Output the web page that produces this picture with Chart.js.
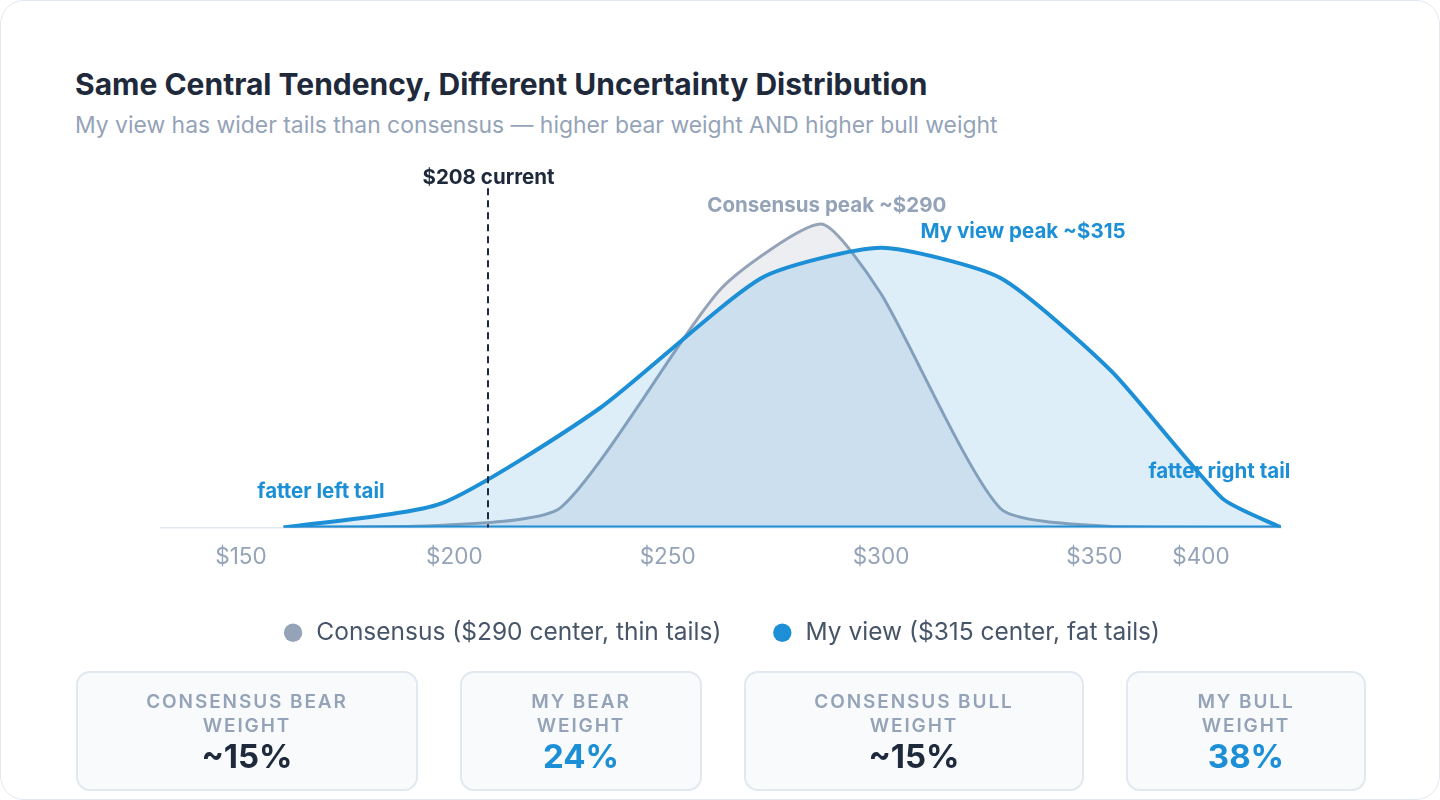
<!DOCTYPE html>
<html>
<head>
<meta charset="utf-8">
<title>Same Central Tendency, Different Uncertainty Distribution</title>
<script src="https://cdn.jsdelivr.net/npm/chart.js@4.4.1/dist/chart.umd.min.js"></script>
<style>
    body { margin: 0; background: #ffffff; font-family: Inter, "Noto Sans", sans-serif; }
    .frame {
        position: absolute; left: 0; top: 0; width: 1440px; height: 800px;
        box-sizing: border-box; border: 1.5px solid #e2e8f0; border-radius: 24px; overflow: hidden;
    }
    h1 {
        position: absolute; left: 74px; top: 65px; margin: 0; white-space: nowrap;
        font-size: 30px; line-height: 36px; font-weight: 700; color: #1e293b;
    }
    .sub {
        position: absolute; left: 74px; top: 110px; white-space: nowrap;
        font-size: 22.9px; line-height: 28px; color: #94a3b8;
    }
    .chart { position: absolute; left: 75px; top: 150px; width: 1290px; height: 560px; }
    .cards { position: absolute; left: 75px; top: 670px; display: flex; gap: 42px; }
    .card {
        box-sizing: border-box; height: 120px; padding-top: 17px;
        border: 2px solid #e2e8f0; border-radius: 14px; background: #f8fafc; text-align: center;
    }
    .lbl { font-size: 19px; line-height: 24px; font-weight: 600; letter-spacing: 1.9px; color: #94a3b8; }
    .val { font-size: 33px; line-height: 36px; font-weight: 700; color: #1e293b; }
    .val.blue { color: #1c8fd6; }
</style>
</head>
<body>
<div class="frame">
    <h1>Same Central Tendency, Different Uncertainty Distribution</h1>
    <div class="sub">My view has wider tails than consensus — higher bear weight AND higher bull weight</div>
    <div class="chart"><canvas id="dist"></canvas></div>
    <div class="cards">
        <div class="card" style="width:342px"><div class="lbl">CONSENSUS BEAR<br>WEIGHT</div><div class="val">~15%</div></div>
        <div class="card" style="width:242px"><div class="lbl">MY BEAR<br>WEIGHT</div><div class="val blue">24%</div></div>
        <div class="card" style="width:340px"><div class="lbl">CONSENSUS BULL<br>WEIGHT</div><div class="val">~15%</div></div>
        <div class="card" style="width:240px"><div class="lbl">MY BULL<br>WEIGHT</div><div class="val blue">38%</div></div>
    </div>
</div>

<script>
// price axis
const xMin = 131.25;
const xMax = 393.75;
const tickValues = [150, 200, 250, 300, 350, 375];
const tickLabels = ['$150', '$200', '$250', '$300', '$350', '$400'];

// consensus: thin tails
const consensusPrice = [160, 197, 225, 262.5, 286, 300, 328, 354, 393.75];
const consensusDensity = [0, 0.6, 5.6, 66.4, 84.4, 65, 5.3, 0.3, 0];

// my view: fat tails
const myViewPrice = [160, 197, 234, 272, 300, 328, 354, 380, 393.75];
const myViewDensity = [0, 6.7, 33.1, 69.4, 77.8, 69.4, 43.5, 8.1, 0];

const currentPrice = 208;

const BLUE = '#1c8fd6';
const GRAY = '#94a3b8';
const DARK = '#1e293b';

// text notes placed in data units
const notes = [
    { text: '$208 current', x: 208, y: 97.2, color: DARK },
    { text: 'Consensus peak ~$290', x: 287.3, y: 89.4, color: GRAY },
    { text: 'My view peak ~$315', x: 333.3, y: 82.2, color: BLUE },
    { text: 'fatter left tail', x: 168.75, y: 10, color: BLUE },
    { text: 'fatter right tail', x: 379.3, y: 15.6, color: BLUE }
];

function toPoints(xs, ys) {
    return xs.map((p, i) => ({ x: p, y: ys[i] }));
}

// dashed current-price line and labels
const notesPlugin = {
    id: 'notes',
    afterDatasetsDraw(chart) {
        const { ctx, scales: { x, y } } = chart;
        ctx.save();
        const cx = Math.round(x.getPixelForValue(currentPrice));
        ctx.strokeStyle = DARK;
        ctx.lineWidth = 2;
        ctx.setLineDash([7, 5]);
        ctx.beginPath();
        ctx.moveTo(cx, y.getPixelForValue(94.4));
        ctx.lineTo(cx, y.getPixelForValue(0));
        ctx.stroke();
        ctx.setLineDash([]);

        ctx.textAlign = 'center';
        ctx.textBaseline = 'middle';
        ctx.font = '700 20.5px Inter';
        notes.forEach(n => {
            ctx.fillStyle = n.color;
            ctx.fillText(n.text, x.getPixelForValue(n.x), y.getPixelForValue(n.y));
        });
        ctx.restore();
    }
};

new Chart(document.getElementById('dist'), {
    type: 'line',
    data: {
        datasets: [
            {
                label: 'My view ($315 center, fat tails)',
                data: toPoints(myViewPrice, myViewDensity),
                borderColor: BLUE,
                backgroundColor: 'rgba(28,143,214,0.15)',
                borderWidth: 4,
                fill: 'origin',
                tension: 0.2
            },
            {
                label: 'Consensus ($290 center, thin tails)',
                data: toPoints(consensusPrice, consensusDensity),
                borderColor: GRAY,
                backgroundColor: 'rgba(148,163,184,0.18)',
                borderWidth: 3,
                fill: 'origin',
                tension: 0.2
            },
            {
                label: 'baseline',
                data: toPoints([myViewPrice[0], myViewPrice[myViewPrice.length - 1]], [0, 0]),
                borderColor: BLUE,
                borderWidth: 4,
                fill: false,
                order: -1
            }
        ]
    },
    options: {
        responsive: true,
        maintainAspectRatio: false,
        animation: false,
        layout: { padding: { left: 85, right: 85, top: 17, bottom: 56 } },
        elements: { point: { radius: 0, hoverRadius: 0 } },
        plugins: {
            tooltip: { enabled: false },
            legend: {
                position: 'bottom',
                labels: {
                    usePointStyle: true,
                    pointStyle: 'circle',
                    boxWidth: 22,
                    boxHeight: 13,
                    padding: 50,
                    color: '#475569',
                    font: { family: 'Inter', size: 24.5 },
                    generateLabels: chart =>
                        Chart.defaults.plugins.legend.labels.generateLabels(chart)
                            .map(item => ({ ...item, fillStyle: item.strokeStyle, lineWidth: 0 })),
                    filter: item => item.text !== 'baseline',
                    sort: (a, b) => b.datasetIndex - a.datasetIndex
                }
            }
        },
        scales: {
            x: {
                type: 'linear',
                min: xMin,
                max: xMax,
                grid: { display: false, drawTicks: false },
                border: { color: '#e2e8f0', width: 1.5 },
                ticks: {
                    padding: 16,
                    color: GRAY,
                    font: { family: 'Inter', size: 22.5 },
                    autoSkip: false,
                    maxRotation: 0,
                    callback: (value, index) => tickLabels[index]
                },
                afterBuildTicks: scale => {
                    scale.ticks = tickValues.map(v => ({ value: v }));
                },
                afterFit: scale => {
                    scale.height -= 16;
                }
            },
            y: { display: false, min: 0, max: 100 }
        }
    },
    plugins: [notesPlugin]
});
</script>
</body>
</html>
